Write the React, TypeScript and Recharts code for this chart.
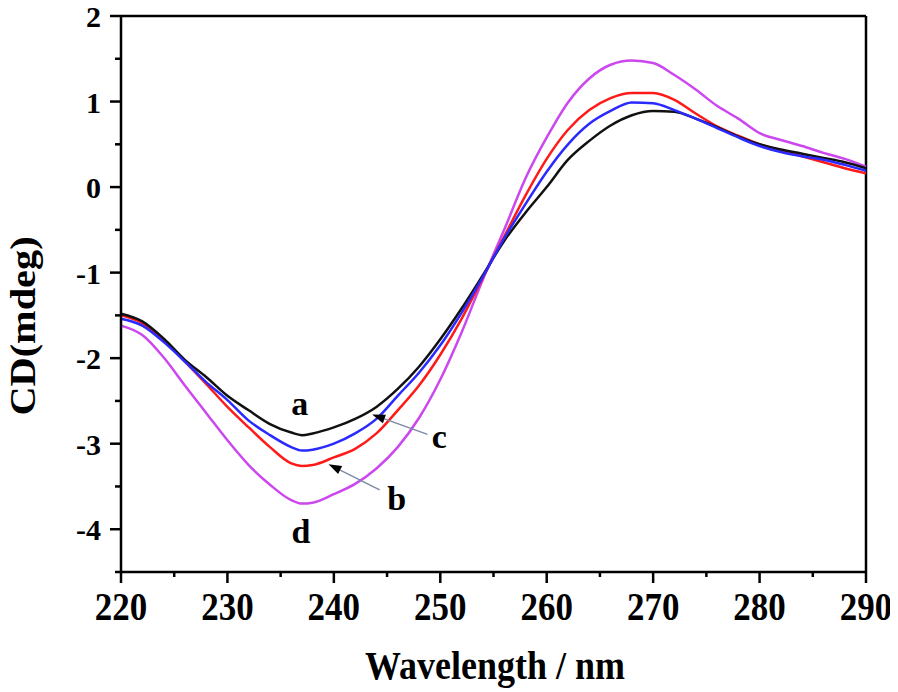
import React from "react";
import {
  LineChart,
  Line,
  XAxis,
  YAxis,
  ReferenceLine,
  ReferenceDot,
  Label,
} from "recharts";

// wavelength (nm) and CD values (mdeg) for the four samples
const wavelengths = [
  220, 222, 224, 226, 228, 230, 232, 234, 236, 237, 238, 240, 242, 244, 246,
  248, 250, 252, 254, 256, 258, 260, 262, 264, 266, 268, 270, 272, 274, 276,
  278, 280, 282, 284, 286, 288, 290,
];
const seriesA = [
  -1.48, -1.57, -1.77, -2.02, -2.22, -2.44, -2.61, -2.77, -2.87, -2.9, -2.88,
  -2.81, -2.71, -2.57, -2.36, -2.1, -1.78, -1.42, -1.03, -0.63, -0.3, 0.0,
  0.32, 0.54, 0.72, 0.84, 0.89, 0.88, 0.8, 0.7, 0.59, 0.5, 0.44, 0.39, 0.34,
  0.29, 0.22,
];
const seriesB = [
  -1.5, -1.59, -1.79, -2.04, -2.3, -2.57, -2.81, -3.04, -3.23, -3.26, -3.25,
  -3.16, -3.06, -2.88, -2.61, -2.32, -1.96, -1.54, -1.06, -0.58, -0.1, 0.33,
  0.67, 0.9, 1.04, 1.1, 1.1, 1.02, 0.86, 0.71, 0.6, 0.5, 0.43, 0.36, 0.29,
  0.22, 0.16,
];
const seriesC = [
  -1.54, -1.62, -1.81, -2.04, -2.28, -2.49, -2.73, -2.9, -3.04, -3.08, -3.07,
  -3.0, -2.88, -2.71, -2.44, -2.17, -1.85, -1.47, -1.05, -0.6, -0.2, 0.18,
  0.5, 0.74, 0.89, 0.99, 0.98, 0.9, 0.8, 0.69, 0.58, 0.48, 0.41, 0.36, 0.32,
  0.26, 0.19,
];
const seriesD = [
  -1.62, -1.73, -1.99, -2.32, -2.64, -2.96, -3.25, -3.48, -3.66, -3.7, -3.69,
  -3.59, -3.47, -3.29, -3.04, -2.7, -2.25, -1.7, -1.08, -0.5, 0.1, 0.58,
  0.99, 1.27, 1.43, 1.48, 1.45, 1.31, 1.14, 0.95, 0.8, 0.63, 0.55, 0.48, 0.4,
  0.33, 0.24,
];

const xTicks = [220, 225, 230, 235, 240, 245, 250, 255, 260, 265, 270, 275, 280, 285, 290];
const yTicks = [-4.5, -4, -3.5, -3, -2.5, -2, -1.5, -1, -0.5, 0, 0.5, 1, 1.5, 2];

// curve labels and arrows (data coords)
const curveLabels = [
  { text: "a", x: 236.8, y: -2.66 },
  { text: "c", x: 249.9, y: -3.05 },
  { text: "b", x: 245.9, y: -3.77 },
  { text: "d", x: 236.9, y: -4.16 },
];
const arrows = [
  { from: { x: 248.8, y: -2.89 }, to: { x: 243.6, y: -2.66 } },
  { from: { x: 244.3, y: -3.54 }, to: { x: 239.5, y: -3.24 } },
];

const data = wavelengths.map((wl, i) => ({
  wl,
  a: seriesA[i],
  b: seriesB[i],
  c: seriesC[i],
  d: seriesD[i],
}));

const FONT = '"Liberation Serif", "Times New Roman", serif';

const XTick = (props: any) => {
  const { x, y, payload } = props;
  const v = payload.value;
  const major = v % 10 === 0;
  return (
    <g>
      <line x1={x} x2={x} y1={y} y2={y + (major ? 11 : 5)} stroke="#000" strokeWidth={2.5} />
      {major && (
        <text
          transform={`translate(${x}, ${y + 48}) scale(1, 1.12)`}
          textAnchor="middle"
          fontFamily={FONT}
          fontWeight="bold"
          fontSize={35}
          fill="#000"
        >
          {v}
        </text>
      )}
    </g>
  );
};

const YTick = (props: any) => {
  const { x, y, payload } = props;
  const v = payload.value;
  const major = Number.isInteger(v);
  return (
    <g>
      <line x1={x - (major ? 11 : 6)} x2={x} y1={y} y2={y} stroke="#000" strokeWidth={2.5} />
      {major && (
        <text x={x - 20} y={y + 11} textAnchor="end" fontFamily={FONT} fontWeight="bold" fontSize={30} fill="#000">
          {v}
        </text>
      )}
    </g>
  );
};

const arrowShape = (p: any) => {
  const { x1, y1, x2, y2 } = p;
  const ang = Math.atan2(y2 - y1, x2 - x1);
  const len = 13;
  const half = 4.5;
  const bx = x2 - len * Math.cos(ang);
  const by = y2 - len * Math.sin(ang);
  const px = -Math.sin(ang) * half;
  const py = Math.cos(ang) * half;
  return (
    <g>
      <line x1={x1} y1={y1} x2={bx} y2={by} stroke="#7a88a6" strokeWidth={1.3} />
      <polygon points={`${x2},${y2} ${bx + px},${by + py} ${bx - px},${by - py}`} fill="#000" />
    </g>
  );
};

const letterShape = (text: string) => (p: any) => (
  <text x={p.cx} y={p.cy} textAnchor="middle" fontFamily={FONT} fontWeight="bold" fontSize={34} fill="#000">
    {text}
  </text>
);

const App: React.FC = () => {
  return (
    <div style={{ marginLeft: -8, marginTop: -8 }}>
      <LineChart width={898} height={692} data={data} margin={{ top: 16, right: 32, left: 0, bottom: 0 }}>
        <XAxis
          dataKey="wl"
          type="number"
          domain={[220, 290]}
          ticks={xTicks}
          interval={0}
          tickSize={0}
          tickMargin={0}
          tickLine={false}
          tick={<XTick />}
          axisLine={{ stroke: "#000", strokeWidth: 2.5 }}
          height={120}
        >
          <Label
            content={() => (
              <text
                transform="translate(495, 679) scale(1, 1.12)"
                textAnchor="middle"
                fontFamily={FONT}
                fontWeight="bold"
                fontSize={36}
                fill="#000"
              >
                Wavelength / nm
              </text>
            )}
          />
        </XAxis>
        <YAxis
          type="number"
          domain={[-4.5, 2]}
          ticks={yTicks}
          interval={0}
          tickSize={0}
          tickMargin={0}
          tickLine={false}
          tick={<YTick />}
          axisLine={{ stroke: "#000", strokeWidth: 2.5 }}
          width={121}
        >
          <Label
            content={() => (
              <text
                transform="translate(35, 326) rotate(-90) scale(1.12, 1)"
                textAnchor="middle"
                fontFamily={FONT}
                fontWeight="bold"
                fontSize={36}
                fill="#000"
              >
                CD(mdeg)
              </text>
            )}
          />
        </YAxis>
        <ReferenceLine y={2} stroke="#000" strokeWidth={2.5} />
        <ReferenceLine x={290} stroke="#000" strokeWidth={2.5} />
        <Line type="monotone" dataKey="d" stroke="#cc47ee" strokeWidth={2.5} dot={false} isAnimationActive={false} />
        <Line type="monotone" dataKey="b" stroke="#ff1a1a" strokeWidth={2.5} dot={false} isAnimationActive={false} />
        <Line type="monotone" dataKey="a" stroke="#111111" strokeWidth={2.5} dot={false} isAnimationActive={false} />
        <Line type="monotone" dataKey="c" stroke="#2a2aff" strokeWidth={2.5} dot={false} isAnimationActive={false} />
        {arrows.map((a, i) => (
          <ReferenceLine key={`arr${i}`} segment={[a.from, a.to]} shape={arrowShape} />
        ))}
        {curveLabels.map((l) => (
          <ReferenceDot key={l.text} x={l.x} y={l.y} r={0} shape={letterShape(l.text)} />
        ))}
      </LineChart>
    </div>
  );
};

export default App;
